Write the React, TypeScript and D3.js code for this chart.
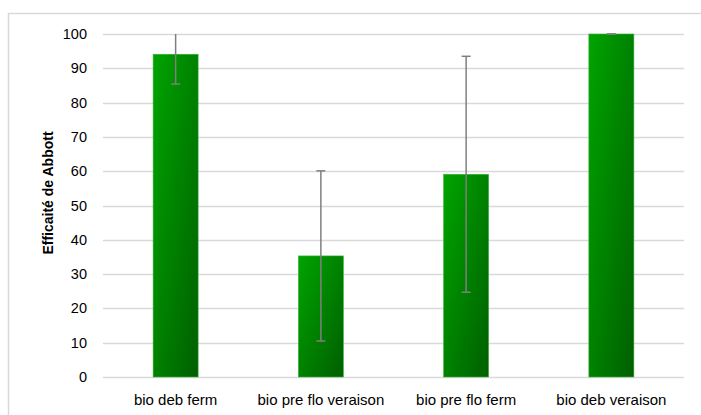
import React from "react";
import * as d3 from "d3";

const categories = ["bio deb ferm", "bio pre flo veraison", "bio pre flo ferm", "bio deb veraison"];
const values = [94.1, 35.3, 59.1, 100];
const errors = [8.7, 24.8, 34.4, 0];
const yTicks = [0, 10, 20, 30, 40, 50, 60, 70, 80, 90, 100];
const yLabel = "Efficaité de Abbott";

const W = 701;
const H = 415;
const margin = { left: 103, right: 17, top: 34, bottom: 38 };
const FONT = "'Liberation Sans', Arial, sans-serif";

export default function App() {
  const x = d3
    .scaleBand<string>()
    .domain(categories)
    .range([margin.left, W - margin.right])
    .paddingInner(0.69)
    .paddingOuter(0.345);
  const y = d3.scaleLinear().domain([0, 100]).range([H - margin.bottom, margin.top]);
  const bw = x.bandwidth();

  return (
    <svg
      width={W}
      height={H}
      style={{ position: "absolute", left: 0, top: 0, background: "#fff" }}
    >
      <defs>
        <linearGradient id="barGrad" x1="0" y1="0" x2="1" y2="1">
          <stop offset="0%" stopColor="#00a400" />
          <stop offset="100%" stopColor="#005f00" />
        </linearGradient>
      </defs>
      <rect x={8.5} y={13.5} width={W + 10} height={H + 10} fill="none" stroke="#d9d9d9" strokeWidth={1.5} />
      {yTicks.map((t) => (
        <g key={t}>
          <line
            x1={margin.left}
            x2={W - margin.right}
            y1={Math.round(y(t)) + 0.5}
            y2={Math.round(y(t)) + 0.5}
            stroke="#d9d9d9"
            strokeWidth={1.3}
          />
          <text
            x={87}
            y={y(t)}
            dy="0.35em"
            textAnchor="end"
            fontFamily={FONT}
            fontSize={14.5}
            fill="#000"
          >
            {t}
          </text>
        </g>
      ))}
      {categories.map((c, i) => {
        const x0 = x(c)!;
        const cx = x0 + bw / 2;
        const v = values[i];
        const e = errors[i];
        const top = y(Math.min(100, v + e));
        const bot = y(Math.max(0, v - e));
        const showTopCap = v + e <= 100;
        return (
          <g key={c}>
            <rect
              x={x0}
              y={y(v)}
              width={bw}
              height={y(0) - y(v)}
              fill="url(#barGrad)"
              stroke="#3cb33c"
              strokeWidth={0.6}
            />
            <line x1={cx} x2={cx} y1={top} y2={bot} stroke="#7f7f7f" strokeWidth={1.5} />
            {showTopCap && (
              <line x1={cx - 4.5} x2={cx + 4.5} y1={top} y2={top} stroke="#7f7f7f" strokeWidth={1.5} />
            )}
            <line x1={cx - 4.5} x2={cx + 4.5} y1={bot} y2={bot} stroke="#7f7f7f" strokeWidth={1.5} />
            <text
              x={cx}
              y={405}
              textAnchor="middle"
              fontFamily={FONT}
              fontSize={15}
              fill="#000"
            >
              {c}
            </text>
          </g>
        );
      })}
      <text
        transform={`translate(53,193) rotate(-90)`}
        textAnchor="middle"
        fontFamily={FONT}
        fontSize={14}
        fontWeight="bold"
        fill="#000"
      >
        {yLabel}
      </text>
    </svg>
  );
}
